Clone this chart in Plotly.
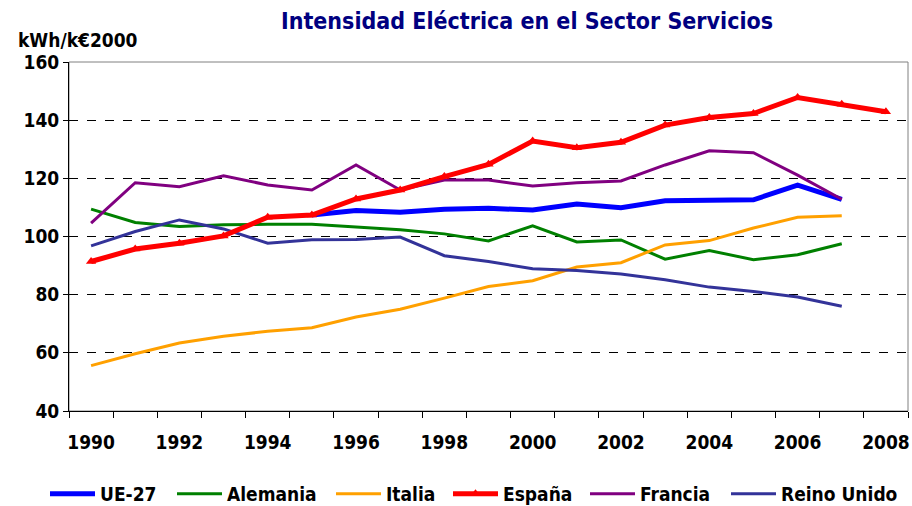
import plotly.graph_objects as go

years = list(range(1990, 2009))

ue27 = [None, None, None, None, None, 107.4, 108.9, 108.3, 109.4, 109.7, 109.1, 111.2, 109.9,
        112.3, 112.3, 112.6, 117.7, 112.8, None]
alemania = [109.4, 104.8, 103.4, 104.0, 104.2, 104.2, 103.3, 102.3, 100.9, 98.5, 103.7, 98.1, 98.8,
            92.2, 95.2, 92.0, 93.7, 97.5, None]
italia = [55.6, 59.7, 63.4, 65.7, 67.4, 68.6, 72.3, 75.0, 78.8, 82.8, 84.8, 89.5, 91.0,
          97.1, 98.6, 102.9, 106.6, 107.1, None]
espana = [91.4, 95.7, 97.7, 100.2, 106.6, 107.4, 112.9, 116.0, 120.6, 124.8, 132.8, 130.5, 132.4,
          138.3, 140.9, 142.3, 147.8, 145.5, 142.9]
francia = [104.6, 118.5, 117.1, 120.9, 117.7, 116.0, 124.6, 116.0, 119.4, 119.4, 117.4, 118.5, 119.1,
           124.6, 129.5, 128.8, 121.1, 112.8, None]
reino_unido = [96.8, 101.7, 105.7, 102.6, 97.7, 98.9, 99.0, 99.8, 93.4, 91.4, 88.9, 88.3, 87.1,
               85.1, 82.6, 81.1, 79.2, 76.0, None]

label_years = list(range(1990, 2009, 2))
yticks = [40, 60, 80, 100, 120, 140, 160]

FONT = "'DejaVu Sans Condensed', 'DejaVu Sans', sans-serif"

PL, PR = 69, 908  # plot area left/right in px
legend_px = {"legend": 50, "legend2": 177, "legend3": 336, "legend4": 453,
             "legend5": 590, "legend6": 731}

fig = go.Figure()

series = [
    ("UE-27", ue27, "#0000FF", 5, "legend"),
    ("Alemania", alemania, "#008000", 3, "legend2"),
    ("Italia", italia, "#FFA000", 3, "legend3"),
    ("Francia", francia, "#800080", 3, "legend5"),
    ("Reino Unido", reino_unido, "#333399", 3, "legend6"),
]
for name, vals, color, w, lg in series:
    fig.add_trace(go.Scatter(x=years, y=vals, name=name, mode="lines",
                             line=dict(color=color, width=w), legend=lg))

fig.add_trace(go.Scatter(x=years, y=espana, name="España", mode="lines+markers",
                         line=dict(color="#FF0000", width=5),
                         marker=dict(symbol="triangle-up", size=9, color="#FF0000"),
                         legend="legend4"))

legend_layout = {}
for key, px in legend_px.items():
    legend_layout[key] = dict(
        orientation="h", x=(px - 5 - PL) / (PR - PL), xanchor="left", xref="paper",
        y=1 - 494 / 506, yanchor="middle", yref="container",
        font=dict(family=FONT, size=19, color="black", weight="bold"),
        bgcolor="rgba(0,0,0,0)", itemwidth=45, borderwidth=0)

fig.update_layout(
    width=912, height=506,
    margin=dict(l=PL, r=912 - PR, t=62, b=95, autoexpand=False),
    paper_bgcolor="white", plot_bgcolor="white",
    font=dict(family=FONT, size=19, color="black"),
    title=dict(text="<b>Intensidad Eléctrica en el Sector Servicios</b>",
               x=527 / 912, xanchor="center", xref="container",
               y=1 - 21 / 506, yanchor="middle", yref="container",
               font=dict(family=FONT, size=23, color="#000080")),
    showlegend=True,
    shapes=[dict(type="rect", xref="paper", yref="paper", x0=0, x1=1, y0=0, y1=1,
                 line=dict(color="#808080", width=1), layer="below")],
    annotations=[dict(text="<b>kWh/k€2000</b>", xref="paper", yref="paper",
                      x=(16 - PL) / (PR - PL), y=(411 - 40) / 349, xanchor="left",
                      yanchor="middle", showarrow=False,
                      font=dict(family=FONT, size=19, color="black"))],
    **legend_layout,
)

fig.update_xaxes(
    range=[1989.5, 2008.5], automargin=False,
    tickmode="array", tickvals=label_years,
    ticktext=[f"<b>{y}</b>" for y in label_years],
    ticks="", showgrid=False, zeroline=False,
    showline=True, linecolor="black", linewidth=1,
    tickfont=dict(family=FONT, size=19, color="black"),
    ticklabelstandoff=14,
    minor=dict(tickmode="array", tickvals=[y - 0.5 for y in years] + [2008.5],
               ticks="outside", ticklen=6, tickcolor="black", tickwidth=1, showgrid=False),
)

fig.update_yaxes(
    range=[40, 160], automargin=False,
    tickmode="array", tickvals=yticks,
    ticktext=[f"<b>{v}</b>" for v in yticks],
    ticks="outside", ticklen=5, tickcolor="black",
    showgrid=True, gridcolor="black", griddash="dash", gridwidth=1,
    zeroline=False, showline=True, linecolor="black", linewidth=1,
    tickfont=dict(family=FONT, size=19, color="black"),
)

fig.write_html("out.html", config={"displayModeBar": False},
               post_script="document.body.style.margin='0';document.body.style.padding='0';")
